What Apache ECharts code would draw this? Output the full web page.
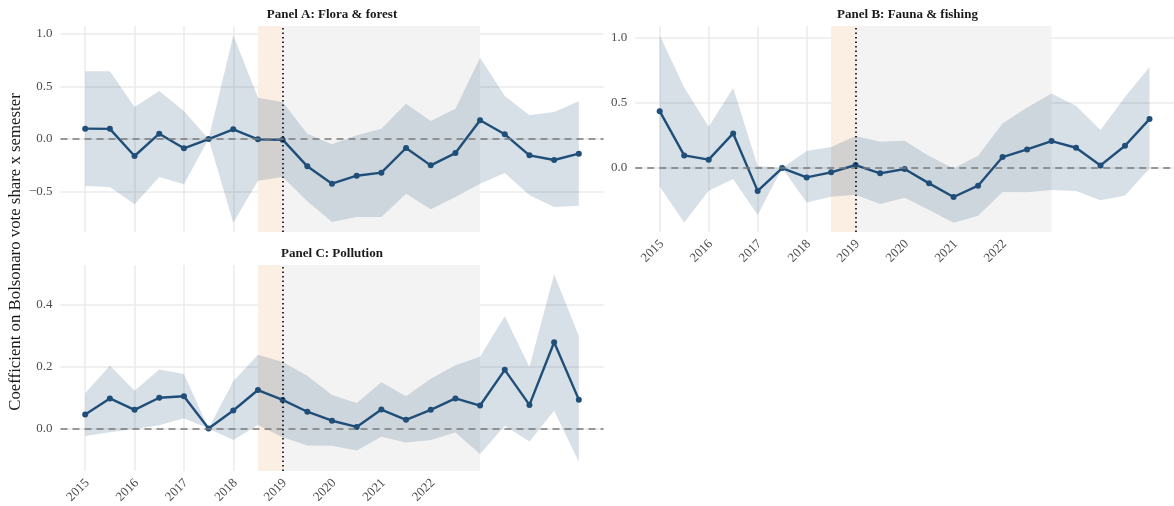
<!DOCTYPE html>
<html>
<head>
<meta charset="utf-8">
<script src="https://cdn.jsdelivr.net/npm/echarts@6/dist/echarts.min.js"></script>
<style>
  html, body { margin: 0; padding: 0; background: #ffffff; }
  #chart { width: 1174px; height: 506px; }
</style>
</head>
<body>
<div id="chart"></div>
<script>
// Semesters (first semester of each year = .0, second = .5)
const semesters = [2015, 2015.5, 2016, 2016.5, 2017, 2017.5, 2018, 2018.5, 2019, 2019.5,
                   2020, 2020.5, 2021, 2021.5, 2022, 2022.5, 2023, 2023.5, 2024, 2024.5, 2025];
const yearTicks = [2015, 2016, 2017, 2018, 2019, 2020, 2021, 2022];

// Panel A: Flora & forest
const floraCoef = [0.099, 0.097, -0.161, 0.051, -0.088, 0.0, 0.092, -0.003, -0.006, -0.259,
                   -0.424, -0.348, -0.319, -0.085, -0.250, -0.133, 0.178, 0.045, -0.155, -0.199, -0.139];
const floraLow  = [-0.446, -0.456, -0.620, -0.361, -0.430, 0.0, -0.794, -0.395, -0.361, -0.590,
                   -0.788, -0.740, -0.740, -0.519, -0.668, -0.551, -0.424, -0.323, -0.535, -0.646, -0.633];
const floraHigh = [0.643, 0.643, 0.304, 0.456, 0.266, 0.0, 0.985, 0.393, 0.351, 0.051,
                   -0.050, 0.035, 0.099, 0.336, 0.171, 0.289, 0.773, 0.408, 0.225, 0.256, 0.358];

// Panel B: Fauna & fishing
const faunaCoef = [0.437, 0.097, 0.064, 0.266, -0.176, 0.0, -0.072, -0.033, 0.023, -0.041,
                   -0.008, -0.118, -0.223, -0.136, 0.084, 0.143, 0.207, 0.156, 0.020, 0.171, 0.376];
const faunaLow  = [-0.143, -0.419, -0.174, -0.084, -0.361, 0.0, -0.266, -0.220, -0.205, -0.276,
                   -0.228, -0.322, -0.420, -0.368, -0.184, -0.187, -0.169, -0.177, -0.248, -0.212, -0.003];
const faunaHigh = [1.020, 0.619, 0.317, 0.616, 0.015, 0.0, 0.130, 0.161, 0.246, 0.202,
                   0.210, 0.092, -0.003, 0.094, 0.343, 0.466, 0.573, 0.476, 0.292, 0.547, 0.777];

// Panel C: Pollution
const pollutionCoef = [0.045, 0.097, 0.060, 0.099, 0.104, 0.0, 0.058, 0.124, 0.092, 0.054,
                       0.025, 0.005, 0.061, 0.028, 0.060, 0.097, 0.074, 0.189, 0.076, 0.278, 0.093];
const pollutionLow  = [-0.024, -0.012, -0.002, 0.010, 0.033, 0.0, -0.037, 0.011, -0.028, -0.055,
                       -0.056, -0.071, -0.027, -0.045, -0.037, -0.013, -0.082, 0.009, -0.042, 0.057, -0.107];
const pollutionHigh = [0.114, 0.203, 0.122, 0.190, 0.176, 0.0, 0.152, 0.238, 0.214, 0.170,
                       0.108, 0.082, 0.149, 0.104, 0.160, 0.204, 0.231, 0.362, 0.198, 0.497, 0.298];

const panelTitles = ['Panel A: Flora & forest', 'Panel B: Fauna & fishing', 'Panel C: Pollution'];
const yTicksA = [-0.5, 0, 0.5, 1.0];
const yTicksB = [0, 0.5, 1.0];
const yTicksC = [0, 0.2, 0.4];
const yTitle = 'Coefficient on Bolsonaro vote share x semester';

// Periods shaded behind the estimates
const transitionStart = 2018.5, treatStart = 2019, treatEnd = 2023;

const SERIF = '"Liberation Serif", "DejaVu Serif", serif';
const LINE = '#1f4e79';
const RIBBON = 'rgba(31,78,121,0.18)';
const GRID_LINE = '#ebebeb';
const TICK_TEXT = '#4d4d4d';

// ggplot-like 5% expansion of the data range
function expandRange(lo, hi) {
  const mn = Math.min(...lo), mx = Math.max(...hi);
  const pad = (mx - mn) * 0.05;
  return [mn - pad, mx + pad];
}

function fmt(v) {
  const s = Math.abs(v).toFixed(1);
  return v < 0 ? '\u2212' + s : s;
}

const grids = [
  { left: 60.5, top: 26, width: 543, height: 206 },
  { left: 635.2, top: 26, width: 545, height: 206 },
  { left: 60.5, top: 265, width: 543, height: 207 }
];

function xAxisFor(i, showLabels) {
  return {
    type: 'value', gridIndex: i, min: 2014.5, max: 2025.5,
    axisLine: { show: false },
    axisTick: { show: false, customValues: yearTicks },
    splitLine: { show: true, lineStyle: { color: GRID_LINE, width: 1.5 } },
    axisLabel: {
      show: showLabels, customValues: yearTicks, rotate: 45, margin: 12,
      fontFamily: SERIF, fontSize: 13, color: TICK_TEXT,
      padding: [0, -3, 0, 0],
      formatter: v => String(v)
    }
  };
}

function yAxisFor(i, lo, hi, ticks) {
  const [mn, mx] = expandRange(lo, hi);
  return {
    type: 'value', gridIndex: i, min: mn, max: mx,
    axisLine: { show: false },
    axisTick: { show: false, customValues: ticks },
    splitLine: { show: true, lineStyle: { color: GRID_LINE, width: 1.5 } },
    axisLabel: {
      customValues: ticks, margin: 8,
      fontFamily: SERIF, fontSize: 13, color: TICK_TEXT,
      formatter: fmt
    }
  };
}

function panelSeries(i, coef, lo, hi) {
  return [
    // shaded periods
    {
      type: 'line', xAxisIndex: i, yAxisIndex: i, z: 1, silent: true,
      data: semesters.map(s => [s, 0]), showSymbol: false, lineStyle: { opacity: 0 },
      markArea: {
        silent: true,
        data: [
          [{ xAxis: transitionStart, itemStyle: { color: '#fbeee3' } }, { xAxis: treatStart }],
          [{ xAxis: treatStart, itemStyle: { color: '#f3f3f3' } }, { xAxis: treatEnd }]
        ]
      }
    },
    // confidence band drawn as one polygon through the axis scales
    {
      type: 'custom', xAxisIndex: i, yAxisIndex: i, z: 2, silent: true,
      data: semesters.map((s, k) => [s, lo[k], hi[k]]),
      encode: { x: 0, y: [1, 2] },
      renderItem: (params, api) => {
        if (params.dataIndex !== 0) return null;
        const upper = semesters.map((s, k) => api.coord([s, hi[k]]));
        const lower = semesters.map((s, k) => api.coord([s, lo[k]])).reverse();
        return {
          type: 'polygon',
          shape: { points: upper.concat(lower) },
          style: { fill: RIBBON }
        };
      }
    },
    // reference lines
    {
      type: 'line', xAxisIndex: i, yAxisIndex: i, z: 3, silent: true,
      data: semesters.map(s => [s, 0]), showSymbol: false, lineStyle: { opacity: 0 },
      markLine: {
        silent: true, symbol: ['none', 'none'], label: { show: false },
        data: [
          { yAxis: 0, lineStyle: { type: [7, 5], color: '#7a7a7a', width: 1.5 } },
          { xAxis: treatStart, lineStyle: { type: [1.5, 3], color: '#000000', width: 1.6 } }
        ]
      }
    },
    // point estimates
    {
      type: 'line', xAxisIndex: i, yAxisIndex: i, z: 4,
      data: semesters.map((s, k) => [s, coef[k]]),
      symbol: 'circle', symbolSize: 6,
      lineStyle: { color: LINE, width: 2.4 },
      itemStyle: { color: LINE }
    }
  ];
}

const chart = echarts.init(document.getElementById('chart'), null, { renderer: 'canvas' });

const titleStyle = { fontFamily: SERIF, fontWeight: 'bold', fontSize: 13, color: '#1a1a1a' };

chart.setOption({
  animation: false,
  backgroundColor: '#ffffff',
  title: [
    { text: panelTitles[0], left: 327, top: 3, textAlign: 'center', textStyle: titleStyle },
    { text: panelTitles[1], left: 902.5, top: 3, textAlign: 'center', textStyle: titleStyle },
    { text: panelTitles[2], left: 327, top: 242, textAlign: 'center', textStyle: titleStyle }
  ],
  grid: grids,
  xAxis: [xAxisFor(0, false), xAxisFor(1, true), xAxisFor(2, true)],
  yAxis: [
    yAxisFor(0, floraLow, floraHigh, yTicksA),
    yAxisFor(1, faunaLow, faunaHigh, yTicksB),
    yAxisFor(2, pollutionLow, pollutionHigh, yTicksC)
  ],
  graphic: [{
    type: 'text', rotation: Math.PI / 2,
    x: 16, y: 252,
    style: {
      text: yTitle, font: '16.8px ' + SERIF, fill: '#1a1a1a',
      textAlign: 'center', textVerticalAlign: 'middle'
    }
  }],
  series: [
    ...panelSeries(0, floraCoef, floraLow, floraHigh),
    ...panelSeries(1, faunaCoef, faunaLow, faunaHigh),
    ...panelSeries(2, pollutionCoef, pollutionLow, pollutionHigh)
  ]
});
</script>
</body>
</html>
